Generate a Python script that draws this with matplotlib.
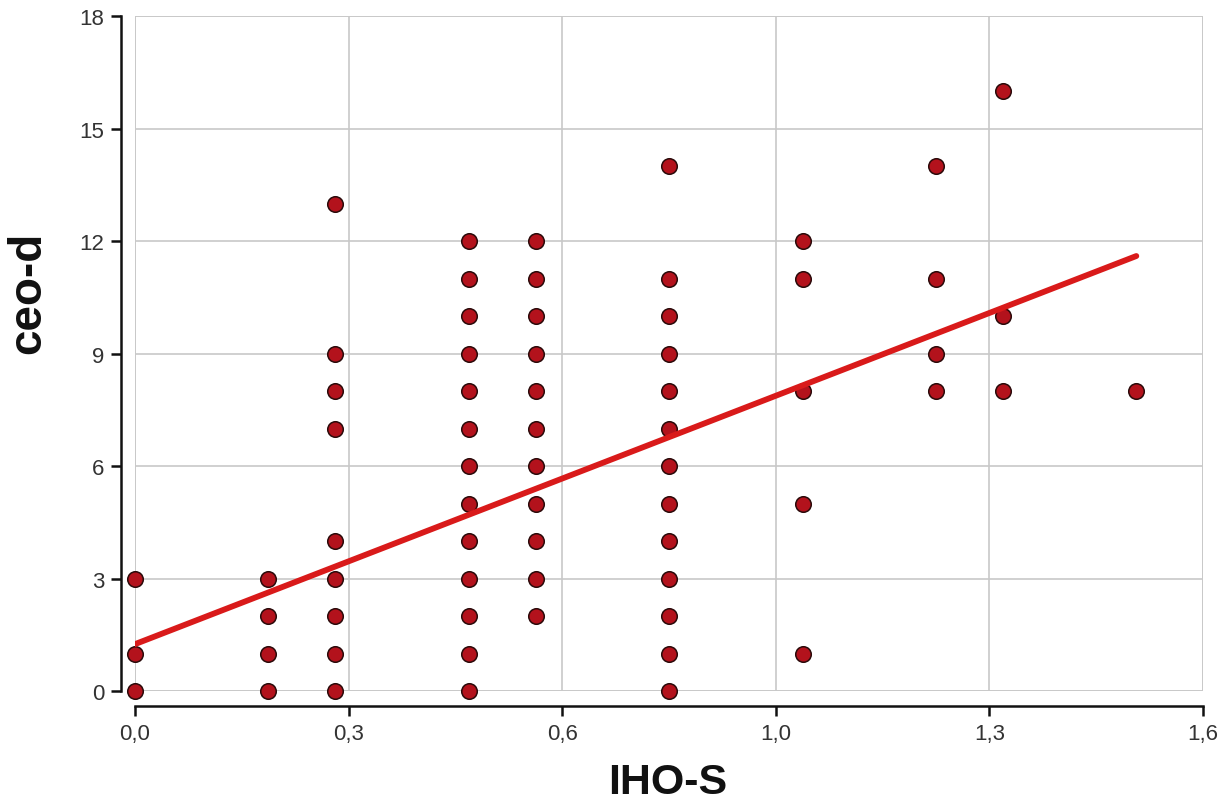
import matplotlib
matplotlib.use("Agg")
import matplotlib.pyplot as plt
import numpy as np

# IHO-S column values and ceo-d values per column
iho_levels = [0.0, 0.2, 0.3, 0.5, 0.6, 0.8, 1.0, 1.2, 1.3, 1.5]
ceo_by_level = [
    [0, 1, 3],
    [0, 1, 2, 3],
    [0, 1, 2, 3, 4, 7, 8, 9, 13],
    [0, 1, 2, 3, 4, 5, 6, 7, 8, 9, 10, 11, 12],
    [2, 3, 4, 5, 6, 7, 8, 9, 10, 11, 12],
    [0, 1, 2, 3, 4, 5, 6, 7, 8, 9, 10, 11, 14],
    [1, 5, 8, 11, 12],
    [8, 9, 11, 14],
    [8, 10, 16],
    [8],
]
fit_intercept = 1.25
fit_slope = 6.9
fit_x = [0.0, 1.5]

x_ticks = [0.0, 0.32, 0.64, 0.96, 1.28, 1.6]
x_tick_labels = ["0,0", "0,3", "0,6", "1,0", "1,3", "1,6"]
y_ticks = [0, 3, 6, 9, 12, 15, 18]

xs, ys = [], []
for lv, vals in zip(iho_levels, ceo_by_level):
    for v in vals:
        xs.append(lv)
        ys.append(v)

plt.rcParams['font.family'] = ['Liberation Sans', 'DejaVu Sans']
fig = plt.figure(figsize=(12.28, 8.03), dpi=100)
ax = fig.add_axes([0.1099, 0.1382, 0.8698, 0.8406])

ax.set_xlim(0, 1.6)
ax.set_ylim(0, 18)
ax.set_xticks(x_ticks)
ax.set_xticklabels(x_tick_labels)
ax.set_yticks(y_ticks)

ax.grid(True, color='#c8c8c8', linewidth=1.2)
ax.set_axisbelow(True)

for s in ['top', 'right']:
    ax.spines[s].set_visible(False)
ax.spines['left'].set_position(('outward', 10))
ax.spines['bottom'].set_position(('outward', 11))
for s in ['left', 'bottom']:
    ax.spines[s].set_linewidth(1.8)
    ax.spines[s].set_color('#111111')
ax.spines['left'].set_bounds(0, 18)
ax.spines['bottom'].set_bounds(0, 1.6)

# frame around plot region
for xv in [0, 1.6]:
    ax.axvline(xv, color='#c8c8c8', linewidth=1.2, zorder=0.5)
for yv in [0, 18]:
    ax.axhline(yv, color='#c8c8c8', linewidth=1.2, zorder=0.5)

ax.tick_params(axis='both', length=7, width=1.8, color='#111111',
               labelsize=16, labelcolor='#333333', pad=5)

ax.scatter(xs, ys, s=125, c='#b3121c', edgecolors='#2a0a0a',
           linewidths=1.1, zorder=3, clip_on=False)

fx = np.array(fit_x)
ax.plot(fx, fit_intercept + fit_slope * fx, color='#d91a1a', linewidth=4.2,
        solid_capstyle='round', zorder=4)

fig.text(668 / 1228, 1 - 794 / 803, 'IHO-S', fontsize=31, fontweight='bold',
         ha='center', va='baseline', color='#111111')
fig.text(28 / 1228, 1 - 293 / 803, 'ceo-d', fontsize=33, fontweight='bold',
         ha='center', va='center', rotation=90, color='#111111')

fig.savefig('out.png', dpi=100)
